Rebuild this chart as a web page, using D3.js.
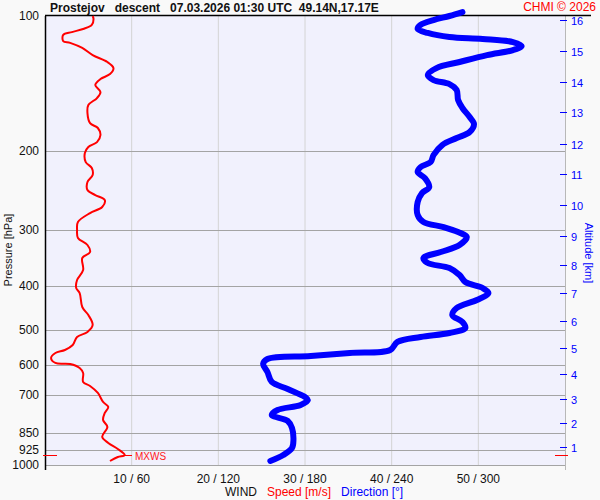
<meta charset="utf-8">
<style>
    body{ margin:0; background:#f9f9f9; }
    svg text{ font-family:"Liberation Sans", Arial, sans-serif; }
</style>
<script src="https://d3js.org/d3.v7.min.js"></script>
<body>
<div id="chart"></div>
</body>
<script>
    // wind speed profile (pressure hPa, speed m/s)
    speedP = [100,101.5,104.7,106.9,108.6,110.2,113.7,114.8,117.8,122.2,126.6,130.6,134.7,138.2,142.5,147.7,152.3,157.9,164.5,173.2,177.6,184.1,190.9,195.8,201.9,211.5,218.1,226.1,234.3,244.1,250.5,257.0,266.3,274.7,287.6,299.7,312.2,323.6,335.4,345.9,367.9,387.3,403.5,414.0,444.8,463.4,487.7,505.6,518.7,540.4,554.4,563.0,577.6,592.6,595.7,608.0,623.9,653.3,666.8,691.2,723.8,742.6,765.9,793.9,822.8,866.1,893.2,921.2,950.0,959.8,979.7]
    speedV = [5.5,5.6,5.4,4.4,3.1,2.1,2.1,2.9,4.3,5.5,7.2,7.9,7.5,6.4,5.8,6.4,6.0,5.0,4.9,5.2,6.1,6.4,6.0,5.0,4.6,4.7,5.4,5.5,4.9,4.9,5.8,6.9,6.6,5.2,3.8,3.7,3.8,4.9,5.2,4.3,4.4,3.7,3.6,4.0,4.3,5.0,5.5,4.9,3.7,3.2,2.3,1.2,0.7,1.2,2.9,4.0,4.4,4.4,5.2,6.1,6.7,7.3,6.9,6.7,7.2,6.6,7.3,8.4,9.2,8.4,7.5]

    // wind direction profile (pressure hPa, direction deg)
    dirP = [98.0,100,102.1,104.7,106.9,109.1,111.4,112.5,114.3,116.6,119.1,122.2,126.6,130.6,135.4,138.9,141.8,146.2,153.9,160.3,167.9,174.0,181.3,187.0,193.8,204.0,211.5,217.0,222.6,229.6,240.4,247.9,259.6,277.5,287.6,295.1,302.8,310.6,323.6,335.4,345.9,354.9,364.2,377.5,391.3,403.5,414.0,429.0,447.0,463.4,480.3,495.3,508.1,518.7,532.1,554.4,563.0,571.8,580.6,595.7,620.7,653.3,677.2,705.5,716.4,735.1,754.2,773.8,797.5,827.1,879.6,916.5,950.0,979.7]
    dirV = [289,280,269,260,258,265,280,303,324,330,324,306,287,271,265,269,280,285,286,289,294,297,294,285,275,269,267,260,258,263,266,261,258,258,262,276,286,292,287,274,262,265,280,287,291,303,307,299,285,282,289,291,280,260,244,239,211,184,154,151,154,157,168,180,182,177,161,157,168,171,172,171,165,156]

    pressTicks = [100,200,300,400,500,600,700,850,925,1000]
    windTicks = [10,20,30,40,50]
    altKm = [16,15,14,13,12,11,10,9,8,7,6,5,4,3,2,1]
    altP = [102,119.6,140,164,193,224.9,263.6,309,358.5,414,478,549,627,713,806,911.8]

    mxwsP = 950
    mxwsV = 9.2

    width = 600
    height = 500
    font = '"Liberation Sans", Arial, sans-serif'

    svg = d3.select("#chart")
            .append("svg")
            .attr("width", width)
            .attr("height", height)
            .style("background-color", "#f9f9f9");

    y = d3.scaleLog().domain([100, 1000]).range([16, 465]);
    xs = d3.scaleLinear().domain([0, 60]).range([45, 565]);
    xd = d3.scaleLinear().domain([0, 360]).range([45, 565]);

    // plot background
    svg.append("rect")
       .attr("x", 45).attr("y", 16)
       .attr("width", 520).attr("height", 449)
       .attr("fill", "#f1f1fd");

    // vertical grid
    windTicks.forEach(function(t){
        svg.append("line")
           .attr("x1", xs(t)).attr("x2", xs(t))
           .attr("y1", 16).attr("y2", 465)
           .attr("stroke", "#d4d4d4").attr("stroke-width", 1);
        svg.append("text")
           .attr("x", xs(t)).attr("y", 483)
           .attr("text-anchor", "middle")
           .attr("font-size", 12)
           .attr("fill", "#111")
           .text(t + " / " + (t*6));
    });

    // pressure grid + labels
    pressTicks.forEach(function(p){
        if(p != 100){
            svg.append("line")
               .attr("x1", 45).attr("x2", 565)
               .attr("y1", Math.round(y(p)) + 0.5).attr("y2", Math.round(y(p)) + 0.5)
               .attr("stroke", "#a4a4a4").attr("stroke-width", 1);
        }
        svg.append("text")
           .attr("x", 39).attr("y", y(p) + 4)
           .attr("text-anchor", "end")
           .attr("font-size", 12)
           .attr("fill", "#111")
           .text(p);
    });

    // axes lines
    svg.append("line")
       .attr("x1", 565.5).attr("x2", 565.5).attr("y1", 16).attr("y2", 470)
       .attr("stroke", "#b8b8b8").attr("stroke-width", 1);
    svg.append("line")
       .attr("x1", 45.5).attr("x2", 45.5).attr("y1", 16).attr("y2", 470)
       .attr("stroke", "#000").attr("stroke-width", 1.5);
    svg.append("line")
       .attr("x1", 45).attr("x2", 591).attr("y1", 15.5).attr("y2", 15.5)
       .attr("stroke", "#000").attr("stroke-width", 1.5);

    // altitude axis
    altKm.forEach(function(k, i){
        yy = Math.round(y(altP[i])) + 0.5;
        svg.append("line")
           .attr("x1", 560).attr("x2", 567).attr("y1", yy).attr("y2", yy)
           .attr("stroke", "#0000ff").attr("stroke-width", 1);
        svg.append("text")
           .attr("x", 571).attr("y", yy + 4)
           .attr("font-size", 11)
           .attr("fill", "#0000ff")
           .text(k);
    });

    // direction line
    line_dir = d3.line()
        .x(function(d, i){ return xd(dirV[i]); })
        .y(function(d){ return y(d); })
        .curve(d3.curveCatmullRom);
    svg.append("path")
       .attr("d", line_dir(dirP))
       .attr("fill", "none")
       .attr("stroke", "#0000ff")
       .attr("stroke-width", 6)
       .attr("stroke-linejoin", "round")
       .attr("stroke-linecap", "round");

    // speed line
    line_spd = d3.line()
        .x(function(d, i){ return xs(speedV[i]); })
        .y(function(d){ return y(d); })
        .curve(d3.curveCatmullRom);
    svg.append("path")
       .attr("d", line_spd(speedP))
       .attr("fill", "none")
       .attr("stroke", "#ff0000")
       .attr("stroke-width", 2);

    // max wind marks
    my = Math.round(y(mxwsP)) + 0.5;
    svg.append("line").attr("x1", 43).attr("x2", 57).attr("y1", my).attr("y2", my)
       .attr("stroke", "#ff0000").attr("stroke-width", 1);
    svg.append("line").attr("x1", 555).attr("x2", 568).attr("y1", my).attr("y2", my)
       .attr("stroke", "#ff0000").attr("stroke-width", 1);
    svg.append("line").attr("x1", xs(mxwsV)).attr("x2", 132).attr("y1", my).attr("y2", my)
       .attr("stroke", "#ff0000").attr("stroke-width", 1);
    svg.append("text")
       .attr("x", 135).attr("y", my + 4)
       .attr("font-size", 10)
       .attr("fill", "#ff2020")
       .text("MXWS");

    // titles
    svg.append("text")
       .attr("x", 50).attr("y", 12)
       .attr("font-size", 12)
       .attr("font-weight", "bold")
       .attr("fill", "#111")
       .style("white-space", "pre")
       .text("Prostejov   descent   07.03.2026 01:30 UTC  49.14N,17.17E");
    svg.append("text")
       .attr("x", 596).attr("y", 11)
       .attr("text-anchor", "end")
       .attr("font-size", 12)
       .attr("fill", "#ff0000")
       .text("CHMI © 2026");

    svg.append("text")
       .attr("transform", "translate(12,250) rotate(-90)")
       .attr("text-anchor", "middle")
       .attr("font-size", 11)
       .attr("fill", "#111")
       .text("Pressure [hPa]");
    svg.append("text")
       .attr("transform", "translate(585,253) rotate(90)")
       .attr("text-anchor", "middle")
       .attr("font-size", 11)
       .attr("fill", "#0000ff")
       .text("Altitude [km]");

    bottom = svg.append("text")
       .attr("x", 225).attr("y", 496)
       .attr("font-size", 12)
       .style("white-space", "pre");
    bottom.append("tspan").attr("fill", "#111").text("WIND   ");
    bottom.append("tspan").attr("fill", "#ff0000").text("Speed [m/s]   ");
    bottom.append("tspan").attr("fill", "#0000ff").text("Direction [°]");
</script>
